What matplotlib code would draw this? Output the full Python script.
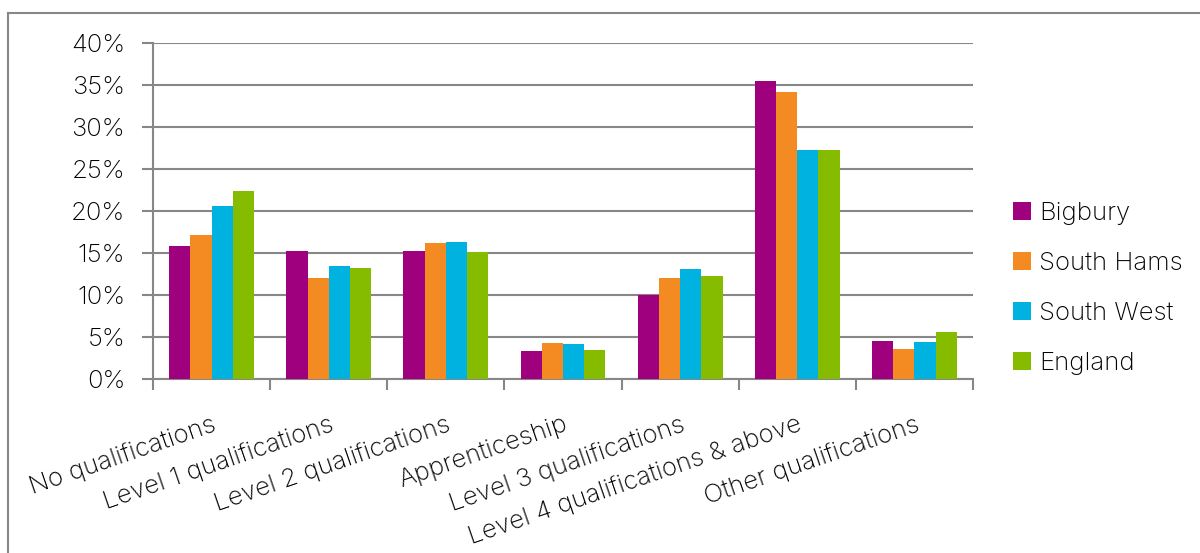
import numpy as np
import matplotlib.pyplot as plt
from matplotlib.lines import Line2D
from matplotlib.ticker import FuncFormatter

categories = ["No qualifications", "Level 1 qualifications", "Level 2 qualifications",
              "Apprenticeship", "Level 3 qualifications",
              "Level 4 qualifications & above", "Other qualifications"]
bigbury = [15.8, 15.2, 15.2, 3.4, 10.0, 35.4, 4.5]
south_hams = [17.1, 12.0, 16.2, 4.3, 12.0, 34.2, 3.6]
south_west = [20.6, 13.5, 16.3, 4.2, 13.1, 27.3, 4.4]
england = [22.4, 13.2, 15.1, 3.5, 12.3, 27.3, 5.6]

series = {"Bigbury": bigbury, "South Hams": south_hams,
          "South West": south_west, "England": england}
colors = ["#9e007e", "#f48a22", "#00b2e0", "#86bc00"]

plt.rcParams["font.family"] = ["Inter", "DejaVu Sans"]
plt.rcParams["font.weight"] = "light"
grey = "#878787"
fs = 18.5

fig = plt.figure(figsize=(12, 5.53), dpi=100)
ax = fig.add_axes([153 / 1200, 1 - 379.3 / 553, 820 / 1200, 336.6 / 553])

x = np.arange(len(categories))
w = 0.181
for i, (name, vals) in enumerate(series.items()):
    ax.bar(x + (i - 1.5) * w, vals, w, color=colors[i], label=name, zorder=3)

ax.set_xlim(-0.5, len(categories) - 0.5)
ax.set_ylim(0, 40)
ax.set_yticks(np.arange(0, 41, 5))
ax.yaxis.set_major_formatter(FuncFormatter(lambda v, p: f"{v:.0f}%"))
ax.grid(axis="y", color=grey, linewidth=1.5, zorder=0)

ax.set_xticks(x)
ax.set_xticklabels(categories, rotation=19, ha="right", rotation_mode="anchor")
ax.set_xticks(np.arange(-0.5, len(categories)), minor=True)
ax.tick_params(axis="x", which="major", length=0, pad=24, labelsize=fs, colors="black")
ax.tick_params(axis="x", which="minor", length=8, width=1.5, color=grey)
ax.tick_params(axis="y", length=8, width=1.5, color=grey, labelsize=fs, pad=12)

for side in ["top", "right"]:
    ax.spines[side].set_visible(False)
for side in ["left", "bottom"]:
    ax.spines[side].set_color(grey)
    ax.spines[side].set_linewidth(1.5)

ax.legend(loc="center left", bbox_to_anchor=(1.021, 0.27), frameon=False,
          fontsize=fs, handlelength=0.7, handleheight=0.7, handletextpad=0.3,
          labelspacing=1.05)

# outer chart border (top and left only visible in crop)
fig.add_artist(Line2D([8 / 1200, 8 / 1200], [0, 1 - 13 / 553], transform=fig.transFigure,
                      color=grey, linewidth=1.5))
fig.add_artist(Line2D([8 / 1200, 1], [1 - 13 / 553, 1 - 13 / 553], transform=fig.transFigure,
                      color=grey, linewidth=1.5))

fig.savefig("out.png", dpi=100)
